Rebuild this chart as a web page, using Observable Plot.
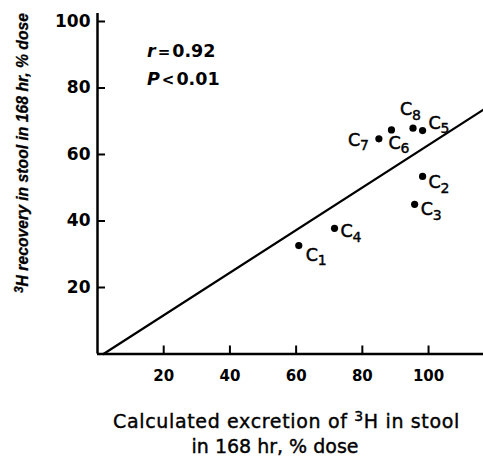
<!DOCTYPE html>
<html><head><meta charset="utf-8">
<script src="https://cdn.jsdelivr.net/npm/d3@7"></script>
<script src="https://cdn.jsdelivr.net/npm/@observablehq/plot@0.6"></script>
<style>html,body{margin:0;padding:0;background:#fff} svg{display:block}</style>
</head><body><div id="chart"></div>
<script>
// ---- data ----
const names = ["C1","C2","C3","C4","C5","C6","C7","C8"];
const calcExcretion = [60.8, 98.2, 95.8, 71.6, 98.2, 88.8, 85.0, 95.3];
const recovery      = [32.6, 53.4, 45.0, 37.8, 67.2, 67.4, 64.7, 67.9];
const xTicks = [20, 40, 60, 80, 100];
const yTicks = [20, 40, 60, 80, 100];
const fitX = [1.8, 116.6];
const fitY = [0, 73.5];
const statSymbols = ["r", "P"];
const statOps = ["=", "<"];
const statValues = ["0.92", "0.01"];
const xTitle = ["Calculated excretion of ", "3", "H in stool", "in 168 hr, % dose"];
const yTitle = ["3", "H recovery in stool in 168 hr, % dose"];

// ---- layout (label offsets in px: dx, baseline dy) ----
const labelOffset = {C1:[7,15], C2:[6,12], C3:[6,11], C4:[6,9], C5:[6,-2], C6:[-3,19], C7:[-31,7], C8:[-13,-13]};

const pts = names.map((n, i) => ({name: n, letter: n[0], sub: n.slice(1), x: calcExcretion[i], y: recovery[i]}));
const fit = fitX.map((x, i) => ({x, y: fitY[i]}));

const font = "DejaVu Sans";
const labelMarks = pts.flatMap(p => {
  const [dx, dy] = labelOffset[p.name];
  return [
    Plot.text([p], {x: "x", y: "y", text: "letter", dx, dy, textAnchor: "start", lineAnchor: "bottom", fontSize: 17.5, fill: "black", stroke: "black", strokeWidth: 0.5}),
    Plot.text([p], {x: "x", y: "y", text: "sub", dx: dx + 12, dy: dy + 4.5, textAnchor: "start", lineAnchor: "bottom", fontSize: 14, fill: "black", stroke: "black", strokeWidth: 0.4})
  ];
});

const chart = Plot.plot({
  width: 483,
  height: 457,
  marginLeft: 97,
  marginRight: 0,
  marginTop: 13,
  marginBottom: 103.5,
  style: {fontFamily: font, background: "white", color: "black"},
  x: {domain: [0, 116.6], axis: null},
  y: {domain: [0, 102.4], axis: null},
  marks: [
    Plot.axisY(yTicks, {anchor: "left", tickSize: 8, dx: 8, fill: "none", label: null, strokeWidth: 2}),
    Plot.axisY(yTicks, {anchor: "left", tickSize: 0, tickPadding: 7, label: null, fontSize: 17, fontWeight: "bold"}),
    Plot.axisX(xTicks, {anchor: "bottom", tickSize: 8, dy: -8, fill: "none", label: null, strokeWidth: 2}),
    Plot.axisX(xTicks, {anchor: "bottom", tickSize: 0, tickPadding: 16, label: null, fontSize: 15, fontWeight: "bold"}),
    Plot.ruleX([0], {strokeWidth: 2.5}),
    Plot.ruleY([0], {strokeWidth: 2.5}),
    Plot.line(fit, {x: "x", y: "y", strokeWidth: 2.2, stroke: "black"}),
    Plot.dot(pts, {x: "x", y: "y", r: 3.6, fill: "black"}),
    ...labelMarks
  ]
});
document.getElementById("chart").append(chart);

const svg = d3.select(chart);
// statistics annotation
statSymbols.forEach((s, i) => {
  const t = svg.append("text")
    .attr("x", 147).attr("y", 57 + i * 28).attr("text-anchor", "start")
    .attr("font-family", font).attr("font-size", 17.5).attr("font-weight", "bold").attr("fill", "black");
  t.append("tspan").attr("font-style", "italic").text(s);
  t.append("tspan").attr("dx", 2).attr("font-size", 15).text(statOps[i]);
  t.append("tspan").attr("dx", 2).text(statValues[i]);
});
// x title
function fitSpacing(sel, target) {
  const n = sel.node();
  const len = n.getComputedTextLength();
  const chars = n.textContent.length;
  if (len > 0 && chars > 1) sel.attr("letter-spacing", Math.max(0, (target - len) / chars));
}
const xt1 = svg.append("text").attr("x", 286.5).attr("y", 428).attr("text-anchor", "middle")
  .attr("font-family", font).attr("font-size", 19).attr("fill", "black").attr("stroke", "black").attr("stroke-width", 0.4);
xt1.append("tspan").text(xTitle[0]);
xt1.append("tspan").attr("dy", -7).attr("font-size", 14).text(xTitle[1]);
xt1.append("tspan").attr("dy", 7).text(xTitle[2]);
fitSpacing(xt1, 347);
const xt2 = svg.append("text").attr("x", 275).attr("y", 453).attr("text-anchor", "middle")
  .attr("font-family", font).attr("font-size", 19).attr("fill", "black").attr("stroke", "black").attr("stroke-width", 0.4)
  .text(xTitle[3]);
fitSpacing(xt2, 164);
// y title (squeezed to the reference's length)
const yt = svg.append("text").attr("transform", "translate(28,153) rotate(-90)").attr("text-anchor", "middle")
  .attr("font-family", "Liberation Sans").attr("font-size", 16.5).attr("font-weight", "bold").attr("font-style", "italic").attr("fill", "black")
  .attr("stroke", "black").attr("stroke-width", 0.3);
yt.append("tspan").attr("dy", -5).attr("font-size", 12.5).text(yTitle[0]);
yt.append("tspan").attr("dy", 5).text(yTitle[1]);
const len = yt.node().getComputedTextLength();
if (len > 280) yt.attr("textLength", 280).attr("lengthAdjust", "spacingAndGlyphs");
</script>
</body></html>
